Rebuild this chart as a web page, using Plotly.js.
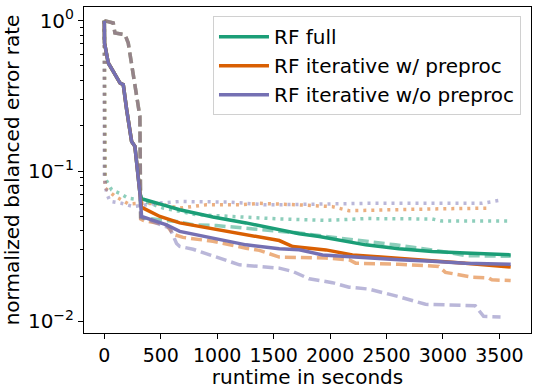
<!DOCTYPE html>
<html>
<head>
<meta charset="utf-8">
<script src="https://cdn.plot.ly/plotly-3.0.1.min.js"></script>
<style>html,body{margin:0;padding:0;background:#fff;}#chart{width:537px;height:389px;}</style>
</head>
<body>
<div id="chart"></div>
<script>
// ---- data ----
const seriesNames = ["RF full", "RF iterative w/ preproc", "RF iterative w/o preproc"];
const colors = ["#1b9e77", "#d95f02", "#7570b3"];

// solid lines (mean curves)
const fullSolidX = [0,2,35,65,79,139,168,198,212,227,242,271,300,315,330,344,521,668,962,1256,1550,1727,1904,2021,2198,2316,2610,2904,3198,3600];
const fullSolidY = [1,0.711,0.523,0.484,0.46,0.385,0.375,0.256,0.219,0.188,0.157,0.146,0.092,0.0717,0.0654,0.065,0.0596,0.0553,0.0495,0.0452,0.0408,0.0383,0.0367,0.0353,0.0332,0.0323,0.0304,0.0292,0.0285,0.0277];

const preSolidX = [0,2,35,65,79,139,168,198,212,227,242,271,300,315,330,344,492,668,962,1256,1550,1669,1963,2198,2610,2904,3198,3600];
const preSolidY = [1,0.711,0.523,0.484,0.46,0.385,0.375,0.256,0.219,0.188,0.157,0.146,0.092,0.0717,0.0567,0.0567,0.0499,0.0452,0.0412,0.0378,0.0345,0.0315,0.0299,0.0277,0.0264,0.0253,0.0244,0.0230];

const noPreSolidX = [0,2,35,65,79,139,168,198,212,227,242,271,300,315,330,551,668,962,1256,1550,1727,1933,2198,2610,2904,3198,3600];
const noPreSolidY = [1,0.711,0.523,0.484,0.46,0.385,0.375,0.256,0.219,0.188,0.157,0.146,0.092,0.0717,0.0499,0.0439,0.0397,0.0358,0.0323,0.0304,0.030,0.0277,0.0268,0.0257,0.0251,0.0244,0.0240];

// dashed lines
const fullDashX = [0,79,94,183,212,256,286,315,322,344,639,786,992,1256,1550,1727,2021,2316,2580,2992,3198,3600];
const fullDashY = [1,0.965,0.828,0.807,0.71,0.426,0.313,0.231,0.0495,0.0487,0.0462,0.0439,0.0434,0.0415,0.0398,0.0387,0.0363,0.0341,0.0323,0.0292,0.0274,0.0271];

const preDashX = [0,79,94,183,212,256,286,315,322,344,551,610,697,962,1256,1374,1550,1963,2168,2227,2610,2963,3022,3257,3404,3433,3600];
const preDashY = [1,0.965,0.828,0.807,0.71,0.426,0.313,0.231,0.048,0.047,0.0439,0.038,0.0362,0.0341,0.0307,0.0297,0.0268,0.0264,0.0257,0.0244,0.024,0.0232,0.0212,0.0197,0.0195,0.0189,0.0187];

const noPreDashX = [0,79,94,183,212,256,286,315,322,344,551,580,640,668,786,1021,1197,1550,1669,1815,1963,2021,2168,2345,2610,2845,3286,3360,3510];
const noPreDashY = [1,0.965,0.828,0.807,0.71,0.426,0.313,0.231,0.049,0.0487,0.0425,0.0418,0.033,0.0315,0.0302,0.0264,0.0238,0.0226,0.0215,0.0192,0.0184,0.0181,0.0169,0.0164,0.0146,0.013,0.0127,0.0108,0.0107];

// dotted lines
const fullDotX = [0,0,6,65,139,212,315,521,815,1109,1550,1963,2198,2316,2904,2992,3580];
const fullDotY = [1,0.092,0.09,0.075,0.071,0.066,0.0645,0.0567,0.0513,0.05,0.048,0.047,0.048,0.0483,0.048,0.0465,0.0465];

const preDotX = [0,0,6,94,168,212,315,462,668,903,1197,1374,1727,2021,2168,2551,2904,3420];
const preDotY = [1,0.09,0.077,0.068,0.0627,0.0605,0.061,0.0609,0.0567,0.0596,0.0596,0.061,0.0596,0.058,0.0545,0.0554,0.056,0.0567];

const noPreDotX = [0,0,21,50,153,256,462,668,1109,1432,1727,2316,3345,3433,3510];
const noPreDotY = [1,0.09,0.071,0.063,0.061,0.058,0.061,0.0627,0.0622,0.0596,0.060,0.061,0.061,0.0627,0.064];

const xTicks = [0,500,1000,1500,2000,2500,3000,3500];
const yTickVals = [0.01, 0.1, 1];
const yTickText = ["10<sup>\u22122</sup>", "10<sup>\u22121</sup>", "10<sup>0</sup>"];

// ---- traces ----
const dotted = [[fullDotX, fullDotY], [preDotX, preDotY], [noPreDotX, noPreDotY]];
const dashed = [[fullDashX, fullDashY], [preDashX, preDashY], [noPreDashX, noPreDashY]];
const solid = [[fullSolidX, fullSolidY], [preSolidX, preSolidY], [noPreSolidX, noPreSolidY]];

const traces = [];
dotted.forEach((d, i) => traces.push({
  x: d[0], y: d[1], type: 'scatter', mode: 'lines', showlegend: false, opacity: 0.5,
  line: {color: colors[i], width: 3.5, dash: '3px,5px'}, hoverinfo: 'skip'
}));
dashed.forEach((d, i) => traces.push({
  x: d[0], y: d[1], type: 'scatter', mode: 'lines', showlegend: false, opacity: 0.5,
  line: {color: colors[i], width: 3.5, dash: '11px,5px'}, hoverinfo: 'skip'
}));
solid.forEach((d, i) => traces.push({
  x: d[0], y: d[1], type: 'scatter', mode: 'lines', name: seriesNames[i],
  line: {color: colors[i], width: 3.5}
}));

// minor ticks for log axis
const minorVals = [];
[0.01, 0.1, 1].forEach(dec => { for (let k = 2; k <= 9; k++) minorVals.push(dec * k); });

const font = {family: 'DejaVu Sans, sans-serif', color: '#000'};

const layout = {
  width: 537, height: 389,
  margin: {l: 84, r: 6, t: 7, b: 56},
  paper_bgcolor: '#fff', plot_bgcolor: '#fff',
  font: Object.assign({size: 19}, font),
  showlegend: true,
  legend: {
    x: 0.9776, y: 0.972, xanchor: 'right', yanchor: 'top',
    bgcolor: 'rgba(255,255,255,0.8)', bordercolor: '#d0d0d0', borderwidth: 1,
    font: Object.assign({size: 20}, font), itemwidth: 50
  },
  xaxis: {
    range: [-180, 3780], tickmode: 'array', tickvals: xTicks,
    ticks: 'outside', ticklen: 5, tickwidth: 1, tickcolor: '#000',
    showline: true, linecolor: '#000', linewidth: 1, mirror: true,
    showgrid: false, zeroline: false,
    tickfont: Object.assign({size: 19}, font),
    title: {text: 'runtime in seconds', font: Object.assign({size: 20}, font), standoff: 4}
  },
  yaxis: {
    type: 'log', range: [-2.077, 0.091],
    tickmode: 'array', tickvals: yTickVals, ticktext: yTickText,
    ticks: 'outside', ticklen: 5, tickwidth: 1, tickcolor: '#000',
    minor: {tickmode: 'array', tickvals: minorVals, ticks: 'outside', ticklen: 3, tickcolor: '#000', showgrid: false},
    showline: true, linecolor: '#000', linewidth: 1, mirror: true,
    showgrid: false, zeroline: false,
    tickfont: Object.assign({size: 20}, font),
    title: {text: 'normalized balanced error rate', font: Object.assign({size: 20}, font), standoff: 6}
  }
};

Plotly.newPlot('chart', traces, layout, {staticPlot: true, displayModeBar: false});
</script>
</body>
</html>
